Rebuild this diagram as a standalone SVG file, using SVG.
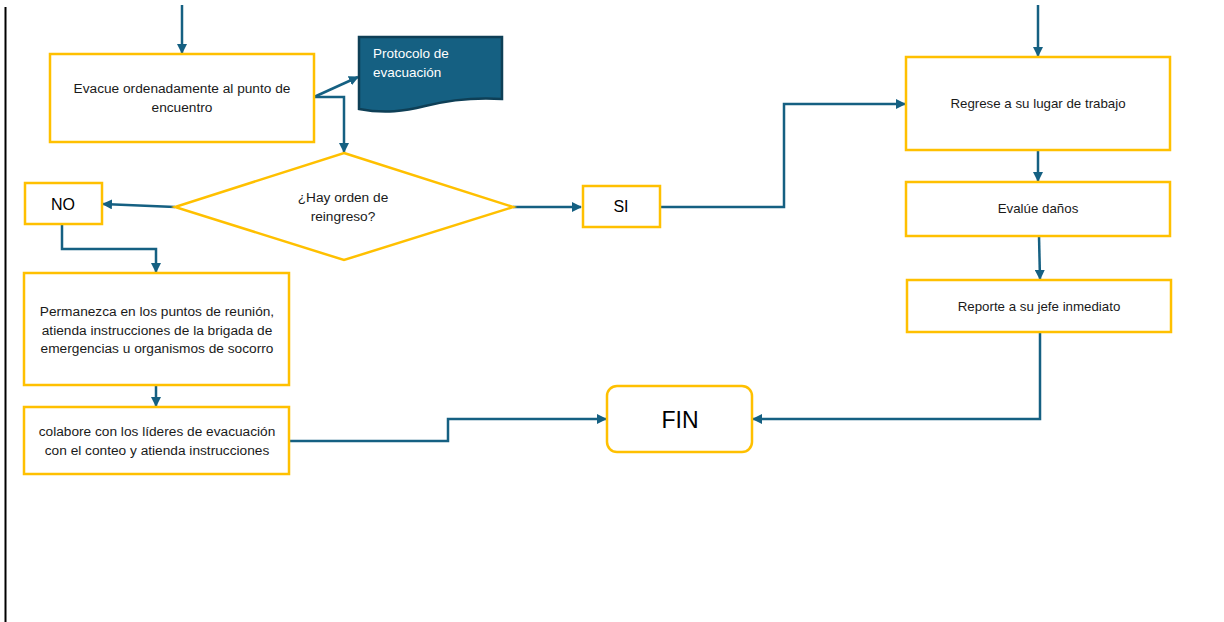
<svg xmlns="http://www.w3.org/2000/svg" width="1224" height="622" viewBox="0 0 1224 622">
<style>
.box{fill:#fff;stroke:#FFC000;stroke-width:2.5}
.con{fill:none;stroke:#156082;stroke-width:2.5}
.t{font-family:"Liberation Sans",Arial,sans-serif;font-size:13.7px;fill:#1a1a1a;text-anchor:middle}
.tn{font-family:"Liberation Sans",Arial,sans-serif;font-size:13.3px;fill:#1a1a1a;text-anchor:middle}
.big{font-family:"Liberation Sans",Arial,sans-serif;font-size:16px;fill:#000;text-anchor:middle}
.doc{font-family:"Liberation Sans",Arial,sans-serif;font-size:13.5px;fill:#fff}
</style>
<defs>
<marker id="ah" viewBox="0 0 10 10" refX="9" refY="5" markerWidth="10" markerHeight="10" markerUnits="userSpaceOnUse" orient="auto">
<path d="M0,0 L10,5 L0,10 Z" fill="#156082"/>
</marker>
</defs>
<rect width="1224" height="622" fill="#fff"/>
<line x1="5.5" y1="7" x2="5.5" y2="622" stroke="#000" stroke-width="2"/>

<g id="connectors">
<path class="con" d="M182,5 V53" marker-end="url(#ah)"/>
<path class="con" d="M314,97 L358,77" marker-end="url(#ah)"/>
<path class="con" d="M314,97 H344 V152" marker-end="url(#ah)"/>
<path class="con" d="M175,207 L103,204" marker-end="url(#ah)"/>
<path class="con" d="M513,207 L581,207" marker-end="url(#ah)"/>
<path class="con" d="M62,224 V249 H156 V272" marker-end="url(#ah)"/>
<path class="con" d="M156,386 V406" marker-end="url(#ah)"/>
<path class="con" d="M289,441 H448 V419 H606" marker-end="url(#ah)"/>
<path class="con" d="M660,207 H784 V104 H905" marker-end="url(#ah)"/>
<path class="con" d="M1038,5 V56" marker-end="url(#ah)"/>
<path class="con" d="M1038,150 V181" marker-end="url(#ah)"/>
<path class="con" d="M1039,236 L1040,279" marker-end="url(#ah)"/>
<path class="con" d="M1040,332 V419 H753" marker-end="url(#ah)"/>
</g>

<g id="evacue">
<rect class="box" x="50" y="54" width="264" height="88"/>
<text class="t" x="182" y="93">Evacue ordenadamente al punto de</text>
<text class="t" x="182" y="112">encuentro</text>
</g>

<g id="protocolo">
<path d="M359,37 H502 V99 C470,97 445,101 425,106 C405,111 385,114 359,109 Z" fill="#156082" stroke="#0E3F56" stroke-width="2.5"/>
<text class="doc" x="373" y="58">Protocolo de</text>
<text class="doc" x="373" y="77">evacuación</text>
</g>

<g id="decision">
<polygon class="box" points="344,153 513,207 344,260 175,207"/>
<text class="t" x="343" y="202">¿Hay orden de</text>
<text class="t" x="343" y="221">reingreso?</text>
</g>

<g id="no">
<rect class="box" x="25" y="183" width="77" height="41"/>
<text class="big" x="63" y="210">NO</text>
</g>

<g id="si">
<rect class="box" x="583" y="186" width="77" height="41"/>
<text class="big" x="621" y="212">SI</text>
</g>

<g id="permanezca">
<rect class="box" x="24" y="273" width="265" height="112"/>
<text class="t" x="157" y="316">Permanezca en los puntos de reunión,</text>
<text class="t" x="157" y="335">atienda instrucciones de la brigada de</text>
<text class="t" x="157" y="353">emergencias u organismos de socorro</text>
</g>

<g id="colabore">
<rect class="box" x="24" y="407" width="265" height="67"/>
<text class="t" x="157" y="436">colabore con los líderes de evacuación</text>
<text class="t" x="157" y="455">con el conteo y atienda instrucciones</text>
</g>

<g id="fin">
<rect class="box" x="607" y="386" width="145" height="66" rx="10"/>
<text class="big" x="680" y="428" style="font-size:23px">FIN</text>
</g>

<g id="regrese">
<rect class="box" x="906" y="57" width="264" height="93"/>
<text class="tn" x="1038" y="108">Regrese a su lugar de trabajo</text>
</g>

<g id="evalue">
<rect class="box" x="906" y="182" width="264" height="54"/>
<text class="tn" x="1038" y="213">Evalúe daños</text>
</g>

<g id="reporte">
<rect class="box" x="907" y="280" width="264" height="52"/>
<text class="tn" x="1039" y="311">Reporte a su jefe inmediato</text>
</g>
</svg>
